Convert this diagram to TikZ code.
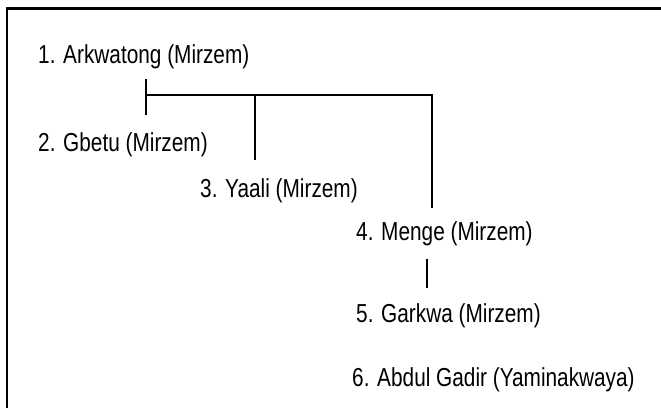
\documentclass[tikz,border=0pt]{standalone}
\usepackage{fontspec}
\setmainfont[FakeStretch=0.8]{Liberation Sans}
\usepackage{tikz}
\usetikzlibrary{positioning,calc}
\tikzstyle{person}=[anchor=base west, inner sep=0pt, font=\fontsize{26}{30}\selectfont]
\tikzstyle{link}=[line width=1.2pt]

\begin{document}
\begin{tikzpicture}[x=1pt, y=-1pt]

\useasboundingbox (0,0) rectangle (661,408);

% frame
\draw[-, line width=2.5pt] (7,408) -- (7,8.5) -- (661,8.5);

% people
\node[person] (p1) at (38,63) {1. Arkwatong (Mirzem)};
\node[person] (p2) at (38,151) {2. Gbetu (Mirzem)};
\node[person] (p3) at (200,197) {3. Yaali (Mirzem)};
\node[person] (p4) at (356,240) {4. Menge (Mirzem)};
\node[person] (p5) at (356,322) {5. Garkwa (Mirzem)};
\node[person] (p6) at (352,386) {6. Abdul Gadir (Yaminakwaya)};

% children of 1
\coordinate (top) at (146,79);
\coordinate (bot) at (146,115);
\coordinate (fork) at (146,95);
\coordinate (mid) at (255,95);
\coordinate (right) at (432,95);
\coordinate (mid-end) at (255,160);
\coordinate (right-end) at (432,208);
\draw[link] (top) -- (bot);
\draw[link] (fork) -- (right) -- (right-end);
\draw[link] (mid) -- (mid-end);

% child of 4
\coordinate (up) at (427,259);
\coordinate (down) at (427,288);
\draw[link] (up) -- (down);

\end{tikzpicture}
\end{document}
